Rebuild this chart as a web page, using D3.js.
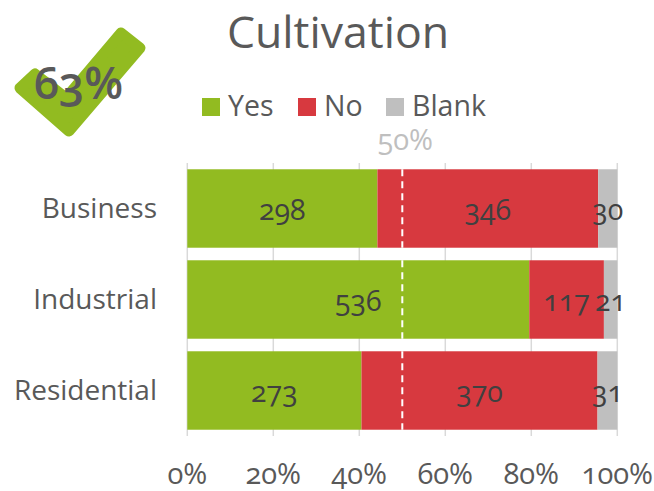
<!DOCTYPE html>
<html><head><meta charset="utf-8">
<script src="https://cdn.jsdelivr.net/npm/d3@7"></script>
<style>
html,body{margin:0;padding:0;background:#fff}
svg{display:block}
text{font-family:"Open Sans",Lato,sans-serif;font-feature-settings:"onum" 1;font-variant-numeric:oldstyle-nums}
</style></head><body>
<script>
const categories=["Business","Industrial","Residential"];
const seriesNames=["Yes","No","Blank"];
const yes=[298,536,273];
const no=[346,117,370];
const blank=[30,21,31];
const xTicks=[0,.2,.4,.6,.8,1];
const reference=.5;
const badge="63%";
const colors=["#92BB21","#D7393F","#BFBFBF"];
const W=654,H=491;
const svg=d3.select("body").append("svg").attr("width",W).attr("height",H);
const x=d3.scaleLinear().domain([0,1]).range([187.3,617.3]);
const y=d3.scaleBand().domain(categories).range([163,436]).paddingInner(.138).paddingOuter(.069);
// grid
svg.append("g").selectAll("line").data(xTicks).join("line")
 .attr("x1",d=>x(d)).attr("x2",d=>x(d)).attr("y1",163).attr("y2",436)
 .attr("stroke","#D9D9D9").attr("stroke-width",1.5);
// bars
const rows=categories.map((c,i)=>{const t=yes[i]+no[i]+blank[i];let a=0;
 return [yes[i],no[i],blank[i]].map((v,k)=>{const o={c,k,v,x0:a/t,x1:(a+v)/t};a+=v;return o;});});
const g=svg.append("g");
g.selectAll("rect").data(rows.flat()).join("rect")
 .attr("x",d=>x(d.x0)).attr("width",d=>x(d.x1)-x(d.x0))
 .attr("y",d=>y(d.c)).attr("height",y.bandwidth()).attr("fill",d=>colors[d.k]);
// reference
svg.append("g").selectAll("line").data(categories).join("line")
 .attr("x1",x(reference)).attr("x2",x(reference))
 .attr("y1",d=>y(d)).attr("y2",d=>y(d)+y.bandwidth())
 .attr("stroke","#fff").attr("stroke-width",2).attr("stroke-dasharray","7 5");
// value labels
svg.append("g").selectAll("text").data(rows.flat()).join("text")
 .attr("x",d=>x((d.x0+d.x1)/2)).attr("y",d=>y(d.c)+y.bandwidth()/2+11)
 .attr("text-anchor","middle").attr("font-size",28.5).attr("fill","#404040").text(d=>d.v);
// category labels
svg.append("g").selectAll("text").data(categories).join("text")
 .attr("x",157).attr("y",d=>y(d)+y.bandwidth()/2+9)
 .attr("text-anchor","end").attr("font-size",28).attr("fill","#595959").text(d=>d);
// x labels
svg.append("g").selectAll("text").data(xTicks).join("text")
 .attr("x",d=>x(d)).attr("y",484)
 .attr("text-anchor","middle").attr("font-size",29).attr("fill","#595959").text(d3.format(".0%"));
// reference label
svg.append("text").attr("x",x(reference)+3).attr("y",150).attr("text-anchor","middle")
 .attr("font-size",29).attr("fill","#BFBFBF").text(d3.format(".0%")(reference));
// title
svg.append("text").attr("x",338).attr("y",47.8).attr("text-anchor","middle").attr("font-size",44.6).attr("fill","#595959").text("Cultivation");
// legend
const lx=[202,298,386];
const leg=svg.append("g").selectAll("g").data(seriesNames).join("g").attr("transform",(d,i)=>`translate(${lx[i]},98)`);
leg.append("rect").attr("width",18).attr("height",18).attr("fill",(d,i)=>colors[i]);
leg.append("text").attr("x",26).attr("y",18).attr("font-size",28.5).attr("fill","#595959").text(d=>d);
// check badge
svg.append("path").attr("d","M20 88 L35 74 L66 98 L121 33 L140 48 L69 131 Z")
 .attr("fill","#92BB21").attr("stroke","#92BB21").attr("stroke-width",11).attr("stroke-linejoin","round");
svg.append("text").attr("x",78.5).attr("y",99).attr("text-anchor","middle").attr("font-size",45).attr("font-weight",600).attr("fill","#595959").text(badge);
</script></body></html>
